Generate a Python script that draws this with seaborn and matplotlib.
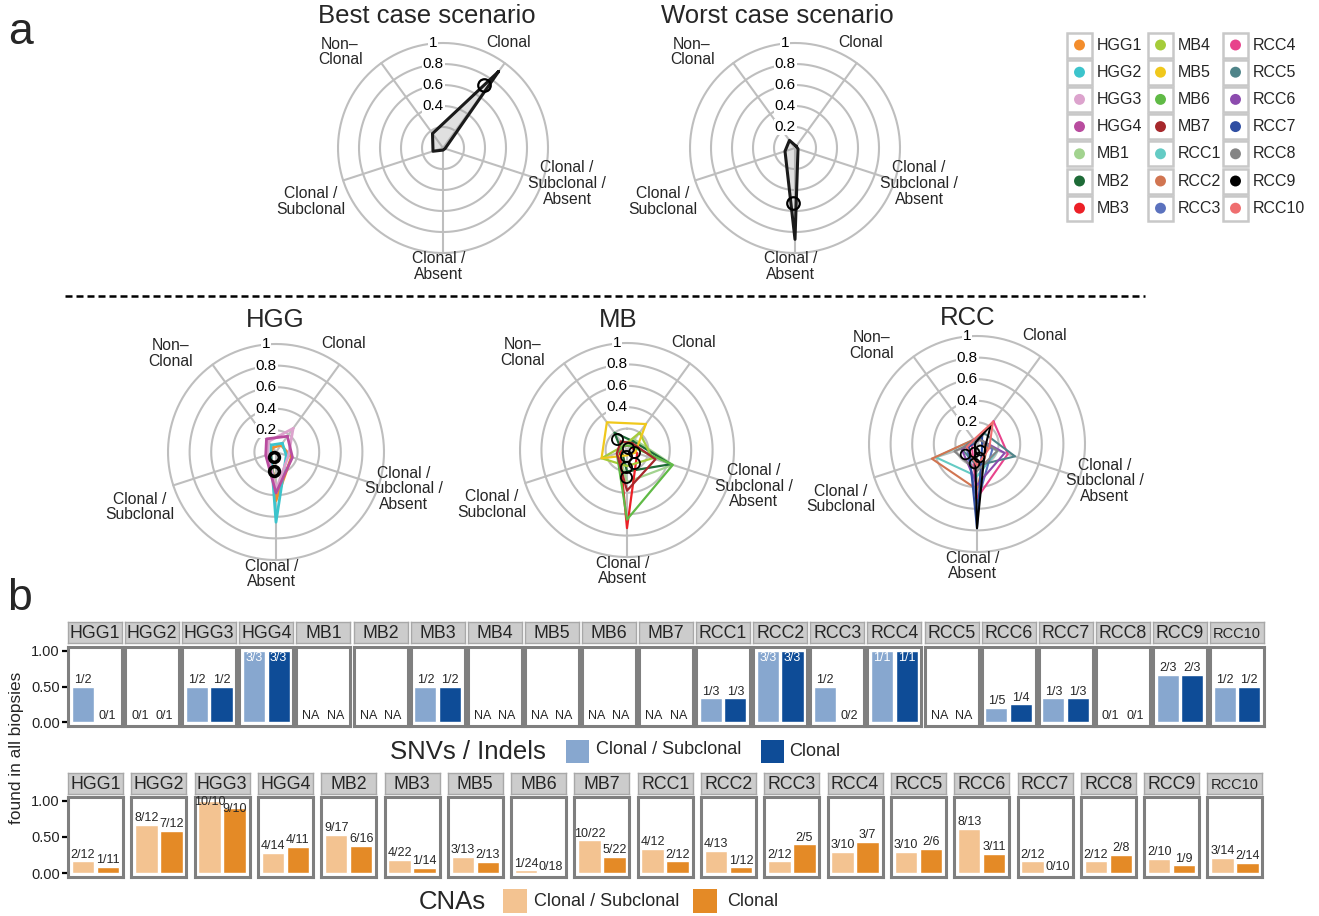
import numpy as np
import pandas as pd
import matplotlib
matplotlib.use("Agg")
import matplotlib.pyplot as plt
import seaborn as sns
from matplotlib.patches import Rectangle

sns.set_theme(style="white")
plt.rcParams["font.family"] = ["Liberation Sans", "DejaVu Sans"]

# ---------------- DATA ----------------
axis_labels = ["Clonal", "Clonal /\nSubclonal /\nAbsent", "Clonal /\nAbsent",
               "Clonal /\nSubclonal", "Non\u2013\nClonal"]
axis_angles_deg = [36, 108, 180, 252, 324]
ring_levels = [0.2, 0.4, 0.6, 0.8, 1.0]
ring_labels = ["0.2", "0.4", "0.6", "0.8", "1"]

# values in order: Clonal, Clonal/Subclonal/Absent, Clonal/Absent, Clonal/Subclonal, Non-Clonal
best_case = [0.90, 0.02, 0.02, 0.10, 0.17]
best_marker_theta = [33]
best_marker_r = [0.71]
worst_case = [0.02, 0.03, 0.87, 0.10, 0.09]
worst_marker_theta = [182]
worst_marker_r = [0.52]

hgg_names = ["HGG1", "HGG2", "HGG3", "HGG4"]
hgg_values = [[0.08, 0.15, 0.45, 0.05, 0.05],
              [0.10, 0.10, 0.65, 0.05, 0.08],
              [0.27, 0.12, 0.35, 0.08, 0.12],
              [0.18, 0.16, 0.38, 0.10, 0.15]]
hgg_marker_theta = [200, 185]
hgg_marker_r = [0.05, 0.18]

mb_names = ["MB1", "MB2", "MB3", "MB4", "MB5", "MB6", "MB7"]
mb_values = [[0.12, 0.45, 0.30, 0.08, 0.08],
             [0.10, 0.43, 0.20, 0.05, 0.20],
             [0.05, 0.10, 0.73, 0.07, 0.05],
             [0.20, 0.25, 0.15, 0.25, 0.05],
             [0.30, 0.08, 0.05, 0.25, 0.32],
             [0.05, 0.45, 0.65, 0.10, 0.05],
             [0.08, 0.28, 0.38, 0.10, 0.10]]
mb_marker_theta = [320, 20, 102, 186, 150, 182, 183]
mb_marker_r = [0.14, 0.02, 0.07, 0.06, 0.14, 0.16, 0.25]

rcc_names = ["RCC1", "RCC2", "RCC3", "RCC4", "RCC5", "RCC6", "RCC7", "RCC8", "RCC9", "RCC10"]
rcc_values = [[0.05, 0.20, 0.30, 0.40, 0.05],
              [0.05, 0.10, 0.42, 0.44, 0.05],
              [0.05, 0.15, 0.55, 0.10, 0.03],
              [0.26, 0.30, 0.50, 0.05, 0.03],
              [0.12, 0.37, 0.20, 0.15, 0.05],
              [0.05, 0.27, 0.38, 0.15, 0.03],
              [0.08, 0.05, 0.78, 0.08, 0.02],
              [0.05, 0.20, 0.25, 0.22, 0.03],
              [0.22, 0.08, 0.78, 0.02, 0.02],
              [0.25, 0.12, 0.20, 0.10, 0.05]]
rcc_marker_theta = [200, 170, 230, 150, 190]
rcc_marker_r = [0.08, 0.12, 0.14, 0.06, 0.18]

sample_names = hgg_names + mb_names + rcc_names
sample_colors = ["#F38D2C", "#3CC4CC", "#DCA3CD", "#B94C9F",
                 "#A2D38F", "#1E6B37", "#EC2027", "#A5CC39", "#F0C81C", "#60BA46", "#A6282C",
                 "#64CBC4", "#D17551", "#5B72BE", "#E8438C", "#4F8489", "#8C4BAE", "#2F4EA2",
                 "#858585", "#000000", "#EF6E6F"]

snv_samples = ["HGG1", "HGG2", "HGG3", "HGG4", "MB1", "MB2", "MB3", "MB4", "MB5", "MB6", "MB7",
               "RCC1", "RCC2", "RCC3", "RCC4", "RCC5", "RCC6", "RCC7", "RCC8", "RCC9", "RCC10"]
snv_cs_num = [1, 0, 1, 3, None, None, 1, None, None, None, None, 1, 3, 1, 1, None, 1, 1, 0, 2, 1]
snv_cs_den = [2, 1, 2, 3, None, None, 2, None, None, None, None, 3, 3, 2, 1, None, 5, 3, 1, 3, 2]
snv_c_num = [0, 0, 1, 3, None, None, 1, None, None, None, None, 1, 3, 0, 1, None, 1, 1, 0, 2, 1]
snv_c_den = [1, 1, 2, 3, None, None, 2, None, None, None, None, 3, 3, 2, 1, None, 4, 3, 1, 3, 2]

cna_samples = ["HGG1", "HGG2", "HGG3", "HGG4", "MB2", "MB3", "MB5", "MB6", "MB7",
               "RCC1", "RCC2", "RCC3", "RCC4", "RCC5", "RCC6", "RCC7", "RCC8", "RCC9", "RCC10"]
cna_cs_num = [2, 8, 10, 4, 9, 4, 3, 1, 10, 4, 4, 2, 3, 3, 8, 2, 2, 2, 3]
cna_cs_den = [12, 12, 10, 14, 17, 22, 13, 24, 22, 12, 13, 12, 10, 10, 13, 12, 12, 10, 14]
cna_c_num = [1, 7, 9, 4, 6, 1, 2, 0, 5, 2, 1, 2, 3, 2, 3, 0, 2, 1, 2]
cna_c_den = [11, 12, 10, 11, 16, 14, 13, 18, 22, 12, 12, 5, 7, 6, 11, 10, 8, 9, 14]

bar_types = ["Clonal / Subclonal", "Clonal"]
snv_colors = ["#87A7CF", "#0E4C97"]
cna_colors = ["#F3C391", "#E48A26"]

# ---------------- FIGURE ----------------
W, H = 1319, 916
fig = plt.figure(figsize=(W / 100, H / 100), dpi=100)


def px_axes(x0, y0, x1, y1, **kw):
    return fig.add_axes([x0 / W, 1 - y1 / H, (x1 - x0) / W, (y1 - y0) / H], **kw)


overlay = fig.add_axes([0, 0, 1, 1])
overlay.set_xlim(0, W)
overlay.set_ylim(H, 0)
overlay.axis("off")

GRID = "#BEBEBE"
label_pos = [(32, 1.18), (106, 1.23), (182, 1.13), (248, 1.36), (313, 1.34)]


def radar(cx, cy, r, title, tx, ty, series, colors, mth, mr, min_label,
          lw=1.5, fill=False, mew=1.4, ms=8):
    ax = px_axes(cx - r, cy - r, cx + r, cy + r, projection="polar")
    ax.set_theta_zero_location("N")
    ax.set_theta_direction(-1)
    ax.set_ylim(0, 1)
    ax.set_xticks([])
    ax.set_yticks([])
    ax.grid(False)
    ax.spines["polar"].set_visible(False)
    ax.set_facecolor("none")
    th = np.linspace(0, 2 * np.pi, 500)
    for lv in ring_levels:
        ax.plot(th, np.full_like(th, lv), color=GRID, lw=1.5, zorder=1, clip_on=False)
    for a in axis_angles_deg:
        ax.plot([np.deg2rad(a)] * 2, [0, 1], color=GRID, lw=1.5, zorder=1, clip_on=False)
    for lv, lab in zip(ring_levels, ring_labels):
        if lv >= min_label - 1e-9:
            ax.annotate(lab, xy=(0, lv), xytext=(-7, 0), textcoords="offset points",
                        ha="center", va="center", fontsize=11, color="black",
                        bbox=dict(fc="white", ec="none", pad=0.6), zorder=2,
                        annotation_clip=False)
    for lab, (ang, rr) in zip(axis_labels, label_pos):
        ax.text(np.deg2rad(ang), rr, lab, ha="center", va="center", fontsize=11.3,
                linespacing=1.05, clip_on=False)
    thetas = np.deg2rad(axis_angles_deg + [axis_angles_deg[0]])
    for vals, col in zip(series, colors):
        v = list(vals) + [vals[0]]
        if fill:
            ax.fill(thetas, v, color="#9A9A9A", alpha=0.3, zorder=3)
        ax.plot(thetas, v, color=col, lw=lw, zorder=4)
    ax.plot(np.deg2rad(mth), mr, "o", mfc="none", mec="black", mew=mew, ms=ms, zorder=5)
    overlay.text(tx, ty, title, ha="center", va="center", fontsize=18.5)
    return ax


radar(443, 148, 105, "Best case scenario", 427, 16, [best_case], ["#1A1A1A"],
      best_marker_theta, best_marker_r, 0.4, lw=2.2, fill=True, mew=1.6, ms=9)
radar(795, 148, 105, "Worst case scenario", 777, 16, [worst_case], ["#1A1A1A"],
      worst_marker_theta, worst_marker_r, 0.2, lw=2.2, fill=True, mew=1.6, ms=9)
radar(276, 452, 108, "HGG", 275, 320, hgg_values, sample_colors[0:4],
      hgg_marker_theta, hgg_marker_r, 0.2, lw=2.0, mew=2.6, ms=7)
radar(627, 450, 107, "MB", 618, 320, mb_values, sample_colors[4:11],
      mb_marker_theta, mb_marker_r, 0.4, lw=1.6, mew=1.3, ms=8)
radar(977, 444, 108, "RCC", 968, 318, rcc_values, sample_colors[11:21],
      rcc_marker_theta, rcc_marker_r, 0.2, lw=1.5, mew=1.3, ms=7)

# legend of samples (top right)
key_left = [1067, 1148, 1223]
label_left = [1097, 1178, 1253]
lx, ly = [], []
for i, (name, col) in enumerate(zip(sample_names, sample_colors)):
    c, rrow = i // 7, i % 7
    yc = 45 + 27.2 * rrow
    overlay.add_patch(Rectangle((key_left[c], yc - 12.5), 25, 25, fc="white",
                                ec="#C8C8C8", lw=1.8))
    lx.append(key_left[c] + 12.5)
    ly.append(yc)
    overlay.text(label_left[c], yc, name, ha="left", va="center", fontsize=11.5)
sns.scatterplot(x=lx, y=ly, hue=sample_names, palette=dict(zip(sample_names, sample_colors)),
                s=62, edgecolor="none", legend=False, ax=overlay, zorder=5)
overlay.set_xlim(0, W)
overlay.set_ylim(H, 0)
overlay.axis("off")

# section labels and divider
overlay.text(20, 32, "a", ha="center", va="center", fontsize=32)
overlay.text(20, 598, "b", ha="center", va="center", fontsize=32)
overlay.plot([65, 1145], [296, 296], color="black", lw=1.8, ls=(0, (2.8, 1.6)))


# ---------------- BAR PANELS ----------------
def bar_row(samples, cs_n, cs_d, c_n, c_d, colors, x_first, pitch, width,
            strip_y0, strip_y1, pan_y0, pan_y1, mode):
    pal = dict(zip(bar_types, colors))
    for k, name in enumerate(samples):
        x0 = x_first + k * pitch
        x1 = x0 + width
        # strip
        sax = px_axes(x0, strip_y0, x1, strip_y1)
        sax.set_facecolor("#CCCCCC")
        sax.set_xticks([])
        sax.set_yticks([])
        for s in sax.spines.values():
            s.set_visible(True)
            s.set_color("#A8A8A8")
            s.set_linewidth(1.0)
        sax.text(0.5, 0.45, name, ha="center", va="center", transform=sax.transAxes,
                 fontsize=12.8 if len(name) < 5 else 10.5)
        # panel
        ax = px_axes(x0, pan_y0, x1, pan_y1)
        vals, labs = [], []
        for n, d in [(cs_n[k], cs_d[k]), (c_n[k], c_d[k])]:
            if n is None:
                vals.append(0.0)
                labs.append("NA")
            else:
                vals.append(n / d)
                labs.append(f"{n}/{d}")
        df = pd.DataFrame({"type": bar_types, "value": vals})
        sns.barplot(data=df, x="type", y="value", hue="type", palette=pal, width=0.9,
                    saturation=1, legend=False, ax=ax, errorbar=None, order=bar_types)
        ax.set_xlim(-0.6, 1.6)
        ax.set_ylim(-0.05, 1.05)
        ax.set_xlabel("")
        ax.set_ylabel("")
        ax.set_xticks([])
        ax.set_facecolor("white")
        for s in ax.spines.values():
            s.set_visible(True)
            s.set_color("#7F7F7F")
            s.set_linewidth(2.2)
        fs = 9.0
        for i, (v, lab) in enumerate(zip(vals, labs)):
            if lab == "NA":
                ax.text(i, 0.0, lab, ha="center", va="bottom", fontsize=fs)
            elif mode == "snv" and v >= 0.99:
                ax.text(i, 0.985, lab, ha="center", va="top", fontsize=fs, color="white")
            elif mode == "cna" and v >= 0.85:
                ax.text(i, v - 0.02, lab, ha="center", va="center", fontsize=fs)
            else:
                ax.text(i, v + 0.01, lab, ha="center", va="bottom", fontsize=fs)
        if k == 0:
            ax.set_yticks([0, 0.5, 1.0])
            ax.set_yticklabels(["0.00", "0.50", "1.00"], fontsize=10.5, color="#222222")
            ax.tick_params(axis="y", left=True, length=4, width=1.6, color="black", pad=2)
        else:
            ax.set_yticks([])


bar_row(snv_samples, snv_cs_num, snv_cs_den, snv_c_num, snv_c_den, snv_colors,
        68, 57.1, 54, 622, 643, 647, 726, "snv")
bar_row(cna_samples, cna_cs_num, cna_cs_den, cna_c_num, cna_c_den, cna_colors,
        68, 63.3, 55, 773, 794, 797, 877, "cna")

# y label
fig.text(17 / W, 1 - 748 / H, "found in all biopsies", rotation=90, ha="center",
         va="center", fontsize=12.4)

# bar legends
overlay.text(468, 752, "SNVs / Indels", ha="center", va="center", fontsize=18.5)
overlay.add_patch(Rectangle((566, 740), 23, 23, fc=snv_colors[0], ec="none"))
overlay.text(596, 750, "Clonal / Subclonal", ha="left", va="center", fontsize=13)
overlay.add_patch(Rectangle((761, 740), 23, 23, fc=snv_colors[1], ec="none"))
overlay.text(789, 751, "Clonal", ha="left", va="center", fontsize=13)

overlay.text(452, 902, "CNAs", ha="center", va="center", fontsize=18.5)
overlay.add_patch(Rectangle((503, 889), 24, 24, fc=cna_colors[0], ec="none"))
overlay.text(534, 901, "Clonal / Subclonal", ha="left", va="center", fontsize=13)
overlay.add_patch(Rectangle((693, 889), 24, 24, fc=cna_colors[1], ec="none"))
overlay.text(727, 901, "Clonal", ha="left", va="center", fontsize=13)

fig.savefig("out.png", dpi=100)
